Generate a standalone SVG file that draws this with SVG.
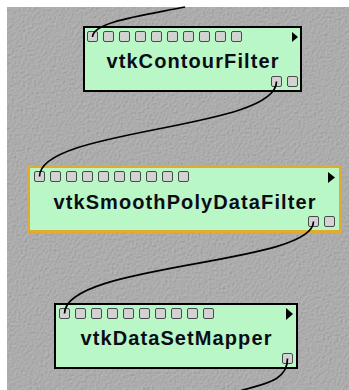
<svg xmlns="http://www.w3.org/2000/svg" width="349" height="390" viewBox="0 0 349 390">
<style>
.body{fill:#b9f7c6;}
.blk{stroke:#000;stroke-width:2;}
.sel{stroke:#e0ac30;stroke-width:3;}
.port{fill:#d3d3d3;stroke:#4a4a4a;stroke-width:1;}
.tri{fill:#000;}
.lbl{font-family:"Liberation Sans",Arial,sans-serif;font-weight:bold;font-size:20px;letter-spacing:1.1px;fill:#0c0c18;text-anchor:middle;}
.wire{fill:none;stroke:#000;stroke-width:1.7;}
</style>
<defs>
<filter id="tex" x="0" y="0" width="100%" height="100%">
<feTurbulence type="fractalNoise" baseFrequency="0.45" numOctaves="2" seed="3" result="n"/>
<feDiffuseLighting in="n" surfaceScale="0.7" diffuseConstant="1" lighting-color="#b8b8b8">
<feDistantLight azimuth="225" elevation="60"/>
</feDiffuseLighting>
</filter>
<g id="inports">
<rect class="port" x="0.5" y="0.5" width="10" height="10" rx="1.5"/>
<rect class="port" x="16.5" y="0.5" width="10" height="10" rx="1.5"/>
<rect class="port" x="32.5" y="0.5" width="10" height="10" rx="1.5"/>
<rect class="port" x="48.5" y="0.5" width="10" height="10" rx="1.5"/>
<rect class="port" x="64.5" y="0.5" width="10" height="10" rx="1.5"/>
<rect class="port" x="80.5" y="0.5" width="10" height="10" rx="1.5"/>
<rect class="port" x="96.5" y="0.5" width="10" height="10" rx="1.5"/>
<rect class="port" x="112.5" y="0.5" width="10" height="10" rx="1.5"/>
<rect class="port" x="128.5" y="0.5" width="10" height="10" rx="1.5"/>
<rect class="port" x="144.5" y="0.5" width="10" height="10" rx="1.5"/>
</g>
</defs>
<rect x="0" y="0" width="349" height="390" fill="#ffffff"/>
<rect x="7" y="7" width="342" height="383" fill="#a0a0a0"/>
<rect x="7" y="7" width="342" height="383" filter="url(#tex)"/>

<g id="vtkContourFilter">
<rect class="body blk" x="84" y="27" width="217" height="64"/>
<use href="#inports" x="87" y="31"/>
<polygon class="tri" points="292,32 298,37 292,42"/>
<text class="lbl" x="193" y="68">vtkContourFilter</text>
<rect class="port" x="271.5" y="76.5" width="10" height="10" rx="1.5"/>
<rect class="port" x="287.5" y="76.5" width="10" height="10" rx="1.5"/>
</g>

<g id="vtkSmoothPolyDataFilter">
<rect class="body sel" x="28.5" y="166.5" width="312" height="65"/>
<use href="#inports" x="34" y="171"/>
<polygon class="tri" points="328,172 335,177.5 328,183"/>
<text class="lbl" x="185" y="209">vtkSmoothPolyDataFilter</text>
<rect class="port" x="308.5" y="216.5" width="10" height="10" rx="1.5"/>
<rect class="port" x="324.5" y="216.5" width="10" height="10" rx="1.5"/>
</g>

<g id="vtkDataSetMapper">
<rect class="body blk" x="55" y="304" width="242" height="64"/>
<use href="#inports" x="59" y="308"/>
<polygon class="tri" points="286,308 293,314 286,320"/>
<text class="lbl" x="176.5" y="345">vtkDataSetMapper</text>
<rect class="port" x="282.5" y="353.5" width="10" height="10" rx="1.5"/>
</g>

<g id="connectors">
<path class="wire" d="M 185 7 C 140 16, 93 22, 92.5 37"/>
<path class="wire" d="M 276.5 81.5 C 276.5 130, 39.5 128, 39.5 176.5"/>
<path class="wire" d="M 313.5 221.5 C 313.5 265, 64.5 263, 64.5 313.5"/>
<path class="wire" d="M 287.5 358.5 C 287.5 382, 262 384, 240 391"/>
</g>
</svg>
